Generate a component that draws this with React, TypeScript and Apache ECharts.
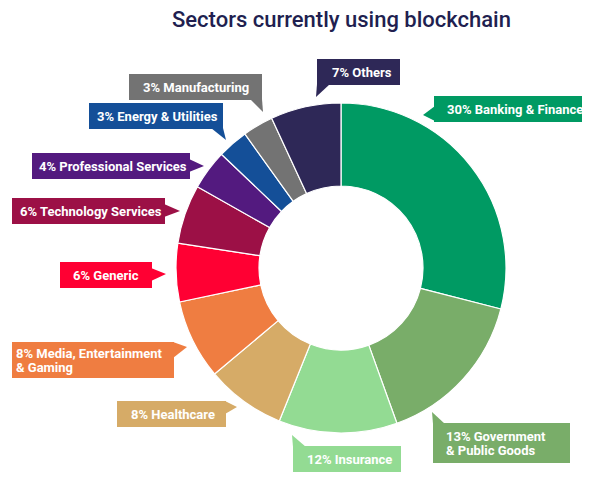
import React, { useEffect, useRef } from "react";
import * as echarts from "echarts";

// ---- data ----
const categories = [
  "Banking & Finance",
  "Government\n& Public Goods",
  "Insurance",
  "Healthcare",
  "Media, Entertainment\n& Gaming",
  "Generic",
  "Technology Services",
  "Professional Services",
  "Energy & Utilities",
  "Manufacturing",
  "Others",
];
// printed percentages on the callouts
const labelPercents = [30, 13, 12, 8, 8, 6, 6, 4, 3, 3, 7];
// slice sizes as drawn in the picture (angular share, %)
const sliceValues = [29, 15.5, 11.6, 7.8, 7.8, 5.7, 5.8, 3.9, 3, 3, 6.9];
const colors = [
  "#009A63",
  "#79AD69",
  "#93DB93",
  "#D6AB67",
  "#EF7D41",
  "#FF0033",
  "#9C1046",
  "#531A7F",
  "#144F98",
  "#737373",
  "#2E2857",
];
const titleText = "Sectors currently using blockchain";

// ---- callout layout (positions/sizes only) ----
type Callout = { box: number[]; textX: number; tail: number[][] };
const callouts: Callout[] = [
  { box: [434, 96, 148, 26], textX: 447, tail: [[435, 106], [423, 115], [435, 121]] },
  { box: [433, 423, 137, 40], textX: 446, tail: [[433, 424], [432, 412], [445, 424]] },
  { box: [293, 446, 108, 26], textX: 307, tail: [[293, 447], [292, 435], [306, 447]] },
  { box: [117, 401, 109, 26], textX: 131, tail: [[225, 401], [237, 407], [225, 414]] },
  { box: [12, 342, 162, 36], textX: 16, tail: [[173, 342], [187, 347], [173, 358]] },
  { box: [60, 262, 92, 26], textX: 73, tail: [[151, 268], [166, 274], [151, 281]] },
  { box: [12, 198, 153, 26], textX: 20, tail: [[164, 204], [180, 211], [164, 217]] },
  { box: [32, 153, 158, 26], textX: 39, tail: [[189, 159], [204, 166], [189, 172]] },
  { box: [89, 103, 134, 26], textX: 97, tail: [[211, 128], [223, 128], [226, 140]] },
  { box: [129, 74, 133, 26], textX: 143, tail: [[250, 99], [262, 99], [263, 112]] },
  { box: [317, 59, 83, 26], textX: 332, tail: [[317, 84], [330, 84], [316, 97]] },
];

export default function App() {
  const ref = useRef<HTMLDivElement>(null);
  useEffect(() => {
    if (!ref.current) return;
    const chart = echarts.init(ref.current, null, { renderer: "svg" });
    const graphics: any[] = [];
    callouts.forEach((c, i) => {
      const col = colors[i];
      graphics.push({
        type: "polygon",
        silent: true,
        shape: { points: c.tail },
        style: { fill: col },
      });
      graphics.push({
        type: "rect",
        silent: true,
        shape: { x: c.box[0], y: c.box[1], width: c.box[2], height: c.box[3] },
        style: { fill: col },
      });
      graphics.push({
        type: "text",
        silent: true,
        style: {
          x: c.textX,
          y: c.box[1] + c.box[3] / 2 + 0.5,
          text: `${labelPercents[i]}% ${categories[i]}`,
          fill: "#ffffff",
          fontFamily: "Roboto",
          fontWeight: "bold",
          fontSize: 13,
          lineHeight: 14,
          align: "left",
          verticalAlign: "middle",
        },
      });
    });
    chart.setOption({
      animation: false,
      title: {
        text: titleText,
        left: 172,
        top: 8,
        padding: 0,
        textStyle: {
          fontFamily: "Roboto",
          fontWeight: 500,
          fontSize: 22,
          color: "#211F50",
        },
      },
      series: [
        {
          type: "pie",
          center: [341, 268],
          radius: [82, 165],
          startAngle: 90,
          clockwise: true,
          silent: true,
          label: { show: false },
          labelLine: { show: false },
          emphasis: { disabled: true },
          itemStyle: { borderColor: "#ffffff", borderWidth: 1.2 },
          data: categories.map((name, i) => ({
            name,
            value: sliceValues[i],
            itemStyle: { color: colors[i] },
          })),
        },
      ],
      graphic: graphics,
    });
    return () => chart.dispose();
  }, []);
  return (
    <div
      ref={ref}
      style={{ position: "absolute", left: 0, top: 0, width: 595, height: 487, background: "#fff" }}
    />
  );
}
